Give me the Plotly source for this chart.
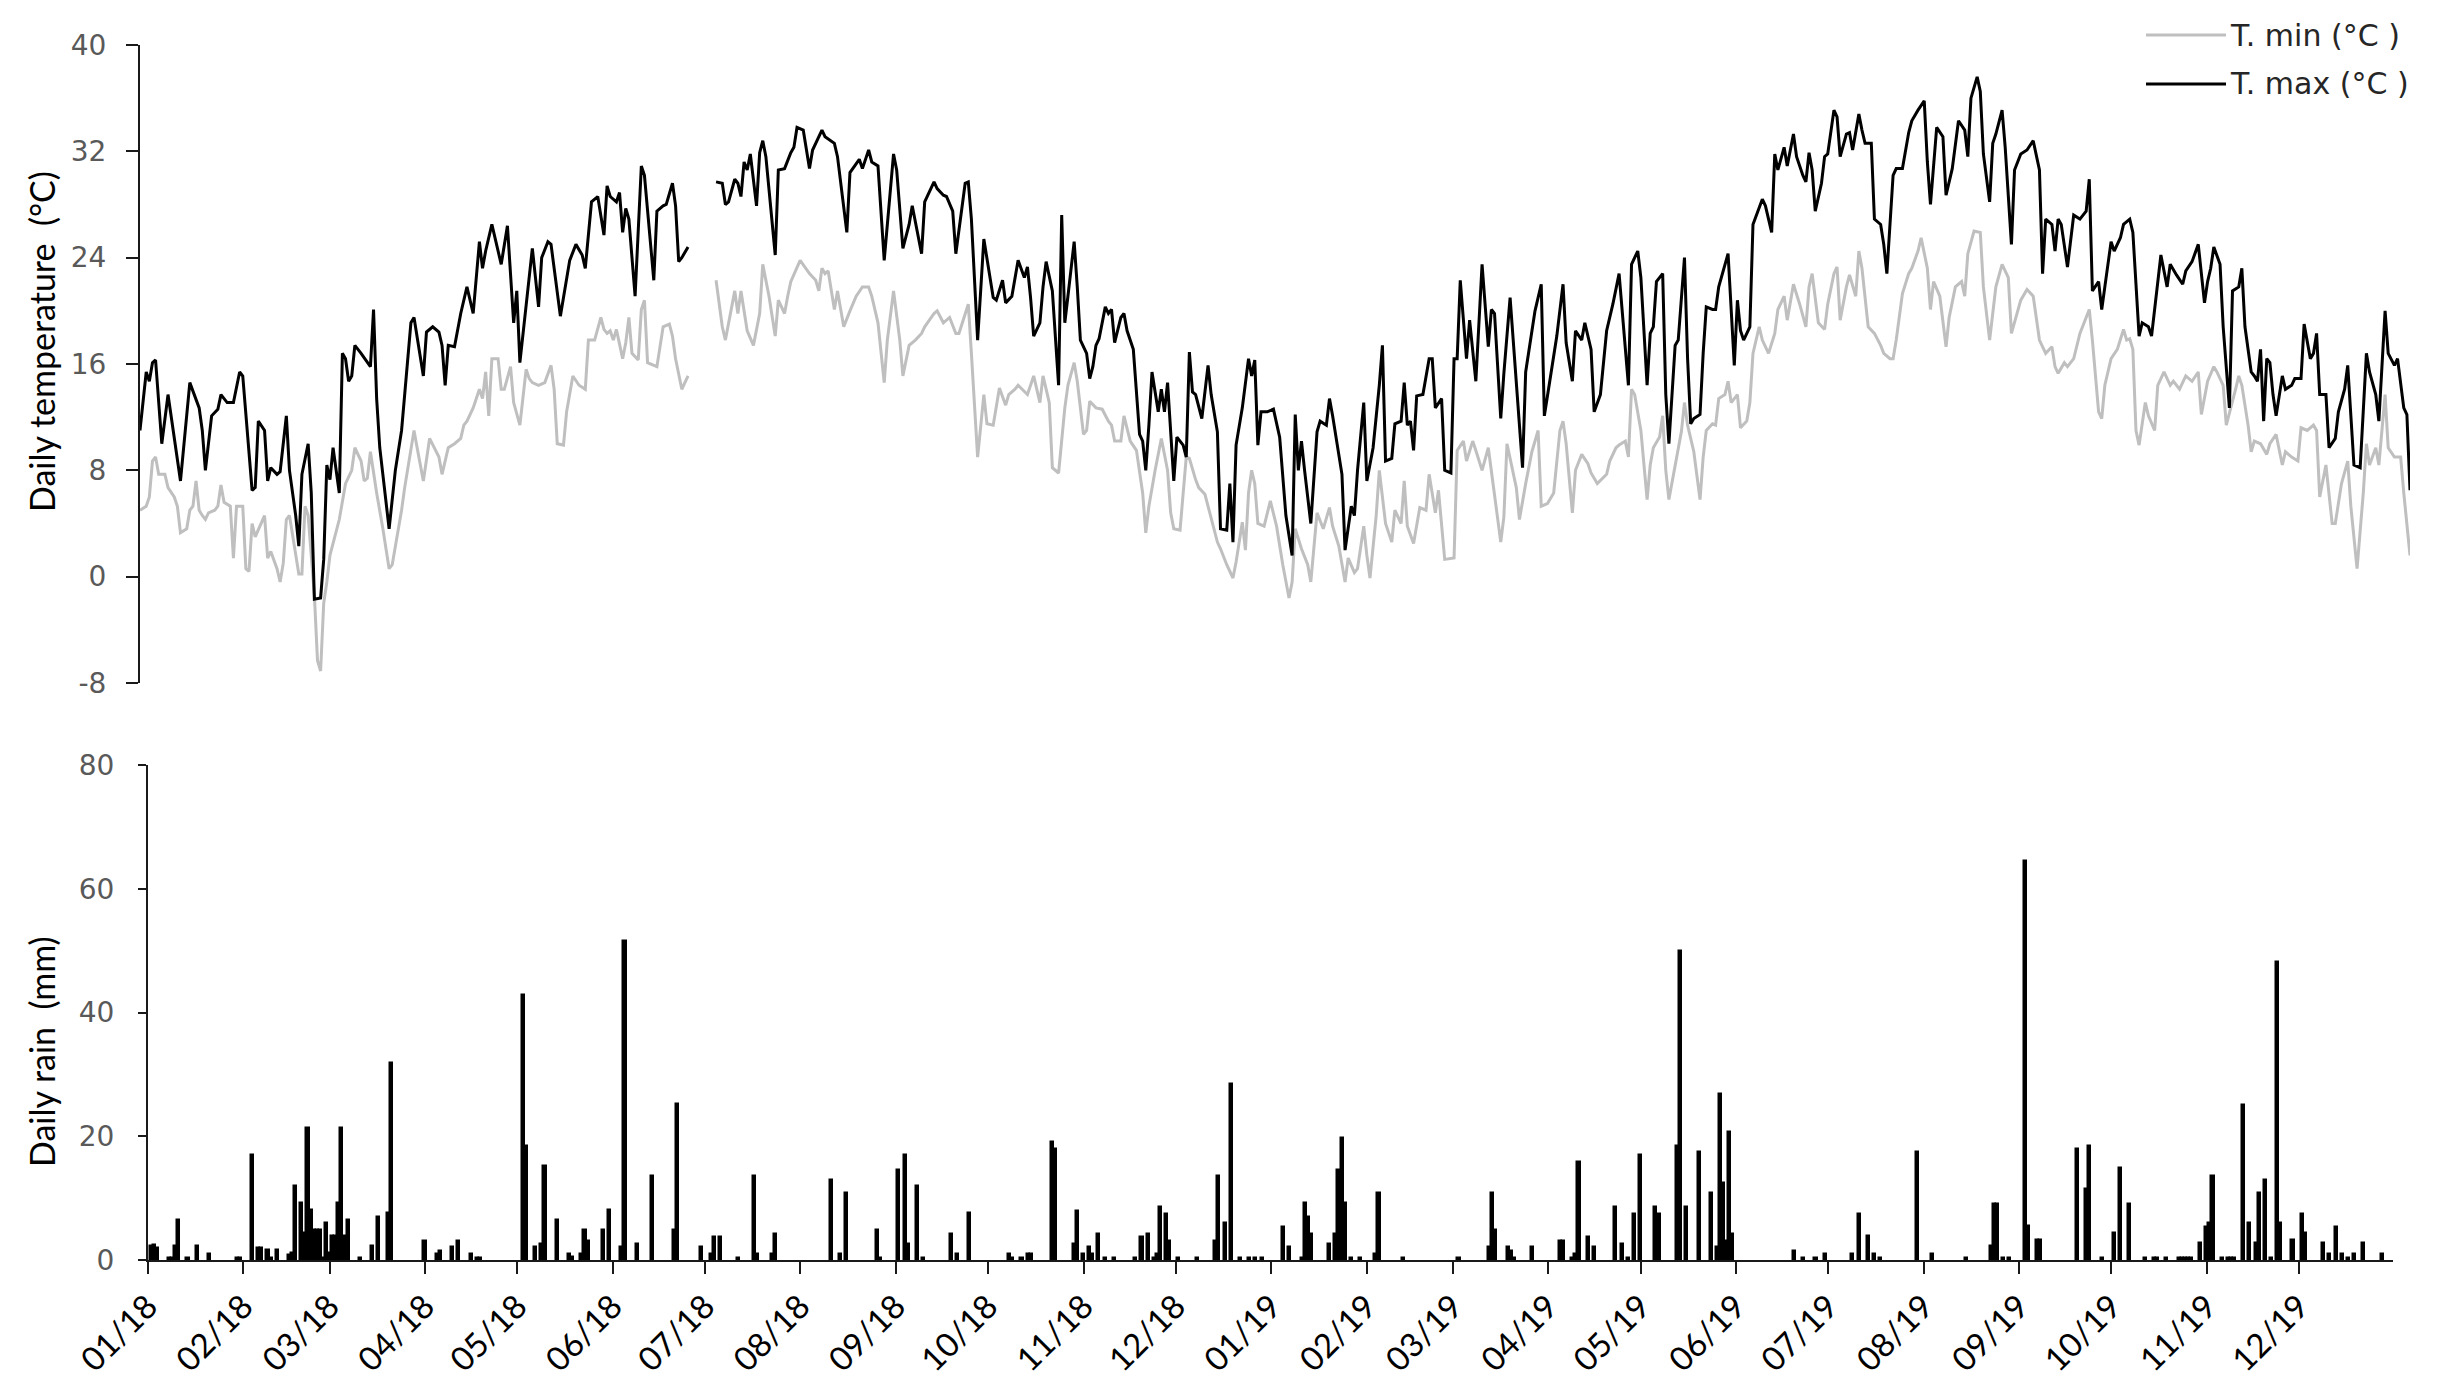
import pandas as pd
import plotly.graph_objects as go

START = pd.Timestamp("2018-01-01")

# (day offset from 2018-01-01, daily max temperature degC); None marks the missing stretch
TMAX = [
    (0, 11.0), (2, 15.4), (3, 14.7), (4, 16.1), (5, 16.3), (7, 10.0), (9, 13.7), (13, 7.2), (16, 14.6), (19, 12.7), (20, 11.0),
    (21, 8.0), (23, 12.1), (25, 12.6), (26, 13.7), (28, 13.1), (30, 13.1), (32, 15.4), (33, 15.1), (35, 9.7), (36, 6.5), (37, 6.7),
    (38, 11.7), (40, 11.0), (41, 7.2), (42, 8.2), (44, 7.7), (45, 7.9), (47, 12.1), (48, 8.0), (50, 4.6), (51, 2.3), (52, 7.7),
    (54, 10.0), (55, 6.3), (56, -1.7), (58, -1.6), (59, 1.3), (60, 8.4), (61, 7.3), (62, 9.7), (64, 6.3), (65, 16.8), (66, 16.4),
    (67, 14.7), (68, 15.1), (69, 17.4), (71, 16.8), (74, 15.8), (75, 20.1), (76, 13.4), (77, 9.7), (80, 3.6), (82, 8.0), (84, 11.0),
    (85, 13.7), (87, 19.1), (88, 19.5), (90, 16.4), (91, 15.1), (92, 18.4), (94, 18.8), (96, 18.4), (97, 17.4), (98, 14.4), (99, 17.4),
    (101, 17.3), (103, 19.8), (105, 21.8), (107, 19.8), (109, 25.2), (110, 23.2), (111, 24.5), (113, 26.5), (116, 23.5), (118, 26.4),
    (120, 19.1), (121, 21.5), (122, 16.1), (126, 24.7), (128, 20.3), (129, 24.0), (131, 25.2), (132, 25.0), (135, 19.6), (138, 23.8),
    (140, 25.0), (142, 24.2), (143, 23.2), (145, 28.2), (147, 28.6), (149, 25.7), (150, 29.4), (151, 28.6), (153, 28.2), (154, 28.9),
    (155, 25.9), (156, 27.7), (157, 26.9), (159, 21.1), (161, 30.9), (162, 30.2), (165, 22.3), (166, 27.5), (168, 27.9), (169, 28.0),
    (171, 29.6), (172, 27.9), (173, 23.7), (174, 24.0), (176, 24.8),
    (180, None),
    (185, 29.7), (187, 29.6), (188, 28.0), (189, 28.2), (191, 29.9), (192, 29.6), (193, 28.6), (194, 31.2), (195, 30.6), (196, 31.8),
    (198, 27.9), (199, 31.9), (200, 32.8), (201, 31.6), (204, 24.2), (205, 30.6), (207, 30.7), (209, 31.9), (210, 32.3), (211, 33.8),
    (213, 33.6), (215, 30.7), (216, 32.1), (219, 33.6), (220, 33.1), (223, 32.6), (224, 31.6), (227, 25.9), (228, 30.4), (231, 31.4),
    (232, 30.7), (234, 32.1), (235, 31.2), (237, 30.9), (239, 23.8), (242, 31.8), (243, 30.6), (245, 24.7), (247, 26.5), (248, 27.9),
    (251, 24.3), (252, 28.2), (255, 29.7), (256, 29.2), (258, 28.7), (259, 28.6), (261, 27.5), (262, 24.3), (265, 29.6), (266, 29.7),
    (267, 26.9), (269, 17.8), (271, 25.4), (274, 21.0), (275, 20.8), (277, 22.3), (278, 20.6), (280, 21.1), (282, 23.8), (283, 23.2),
    (284, 22.5), (285, 23.3), (286, 21.0), (287, 18.1), (289, 19.1), (290, 21.8), (291, 23.7), (293, 21.5), (295, 14.4), (296, 27.2),
    (297, 19.1), (298, 21.1), (300, 25.2), (301, 21.8), (302, 17.8), (304, 16.8), (305, 14.9), (306, 15.8), (307, 17.4), (308, 17.9),
    (310, 20.3), (311, 19.8), (312, 20.1), (313, 17.6), (315, 19.5), (316, 19.8), (317, 18.5), (319, 17.1), (321, 10.7), (322, 10.2),
    (323, 8.0), (324, 11.4), (325, 15.4), (327, 12.4), (328, 14.1), (329, 12.4), (330, 14.6), (332, 7.2), (333, 10.5), (335, 9.9),
    (336, 9.0), (337, 16.9), (338, 13.9), (339, 13.7), (341, 11.9), (343, 15.9), (344, 13.7), (346, 10.9), (347, 3.6), (349, 3.5),
    (350, 7.0), (351, 2.6), (352, 9.9), (354, 12.7), (356, 16.4), (357, 15.1), (358, 16.3), (359, 9.9), (360, 12.4), (362, 12.4),
    (364, 12.6), (366, 10.5), (368, 4.6), (370, 1.6), (371, 12.2), (372, 8.0), (373, 10.2), (374, 8.0), (376, 4.0), (378, 10.9),
    (379, 11.7), (381, 11.4), (382, 13.4), (383, 12.1), (386, 7.7), (387, 2.0), (389, 5.3), (390, 4.6), (391, 8.0), (393, 13.1),
    (394, 7.2), (396, 9.7), (398, 14.4), (399, 17.4), (400, 8.7), (402, 8.9), (403, 11.5), (405, 11.7), (406, 14.6), (407, 11.4),
    (408, 11.7), (409, 9.5), (410, 13.6), (412, 13.7), (414, 16.4), (415, 16.4), (416, 12.7), (418, 13.4), (419, 8.0), (421, 7.8),
    (422, 16.4), (423, 16.4), (424, 22.3), (426, 16.4), (427, 19.3), (429, 14.7), (431, 23.5), (433, 17.3), (434, 20.1), (435, 19.8),
    (437, 11.9), (438, 15.3), (440, 21.0), (441, 17.8), (444, 8.2), (445, 15.4), (448, 20.0), (450, 22.0), (451, 12.1), (452, 13.6),
    (455, 18.1), (457, 22.0), (458, 17.6), (460, 14.7), (461, 18.5), (463, 17.8), (464, 19.1), (466, 17.1), (467, 12.4), (469, 13.7),
    (471, 18.5), (473, 20.5), (475, 22.8), (478, 14.4), (479, 23.5), (481, 24.5), (482, 22.5), (484, 14.4), (485, 18.3), (486, 18.8),
    (487, 22.2), (489, 22.8), (490, 13.7), (491, 10.0), (493, 17.4), (494, 17.8), (496, 24.0), (497, 16.4), (498, 11.5), (499, 11.9),
    (501, 12.2), (502, 16.8), (503, 20.3), (505, 20.1), (506, 20.1), (507, 21.8), (509, 23.5), (510, 24.3), (512, 15.9), (513, 20.8),
    (514, 18.5), (515, 17.8), (517, 18.8), (518, 26.5), (521, 28.4), (522, 27.9), (524, 25.9), (525, 31.8), (526, 30.6), (528, 32.3),
    (529, 30.9), (531, 33.3), (532, 31.6), (534, 30.2), (535, 29.7), (536, 31.9), (537, 30.6), (538, 27.5), (540, 29.6), (541, 31.6),
    (542, 31.8), (544, 35.1), (545, 34.6), (546, 31.6), (548, 33.3), (549, 33.4), (550, 32.1), (552, 34.8), (553, 33.6), (554, 32.6),
    (556, 32.6), (557, 26.9), (559, 26.5), (560, 25.0), (561, 22.8), (563, 30.2), (564, 30.7), (566, 30.7), (568, 33.4), (569, 34.3),
    (571, 35.1), (573, 35.8), (574, 31.2), (575, 28.0), (577, 33.8), (579, 33.1), (580, 28.7), (582, 30.7), (584, 34.3), (586, 33.6),
    (587, 31.6), (588, 36.0), (590, 37.6), (591, 36.5), (592, 31.8), (594, 28.2), (595, 32.6), (596, 33.3), (598, 35.1), (599, 32.3),
    (601, 25.0), (602, 30.6), (604, 31.8), (606, 32.1), (608, 32.8), (610, 30.6), (611, 22.8), (612, 26.9), (614, 26.5), (615, 24.5),
    (616, 26.9), (617, 26.5), (619, 23.3), (620, 25.2), (621, 27.2), (623, 26.9), (625, 27.5), (626, 29.9), (627, 21.5), (629, 22.2),
    (630, 20.1), (631, 21.8), (633, 25.2), (634, 24.5), (636, 25.5), (637, 26.5), (639, 26.9), (640, 25.9), (642, 18.1), (643, 19.1),
    (645, 18.8), (646, 18.1), (647, 20.1), (649, 24.2), (651, 21.8), (652, 23.5), (654, 22.7), (656, 22.0), (657, 23.0), (659, 23.7),
    (661, 25.0), (662, 22.8), (663, 20.6), (664, 22.2), (665, 23.2), (666, 24.8), (668, 23.5), (669, 18.8), (671, 12.7), (672, 21.5),
    (674, 21.8), (675, 23.2), (676, 18.8), (678, 15.4), (679, 15.1), (680, 14.7), (681, 17.1), (682, 11.7), (683, 16.4), (684, 16.1),
    (685, 13.7), (686, 12.1), (688, 15.1), (689, 14.1), (691, 14.4), (692, 14.9), (694, 14.9), (695, 19.0), (697, 16.4), (698, 16.8),
    (699, 18.3), (700, 13.7), (702, 13.7), (703, 9.7), (705, 10.4), (706, 12.4), (708, 14.1), (709, 15.9), (711, 8.4), (713, 8.2),
    (714, 12.4), (715, 16.8), (716, 15.4), (718, 13.7), (719, 11.7), (720, 16.4), (721, 20.0), (722, 16.8), (724, 15.9), (725, 16.4),
    (727, 12.7), (728, 12.2), (729, 6.5),
]

# (day offset, daily min temperature degC)
TMIN = [
    (0, 5.0), (2, 5.3), (3, 6.0), (4, 8.7), (5, 9.0), (6, 7.7), (8, 7.7), (9, 6.7), (11, 6.0), (12, 5.3), (13, 3.3), (15, 3.6),
    (16, 5.0), (17, 5.3), (18, 7.2), (19, 5.0), (20, 4.6), (21, 4.3), (22, 4.8), (24, 5.0), (25, 5.3), (26, 6.9), (27, 5.6), (29, 5.3),
    (30, 1.4), (31, 5.3), (33, 5.3), (34, 0.6), (35, 0.4), (36, 4.0), (37, 3.0), (40, 4.6), (41, 1.4), (42, 1.9), (44, 0.6), (45, -0.4),
    (46, 1.0), (47, 4.3), (48, 4.6), (51, 0.2), (52, 0.2), (53, 5.3), (54, 4.6), (56, -1.4), (57, -6.3), (58, -7.1), (59, -2.0),
    (60, -0.4), (61, 1.6), (63, 3.3), (64, 4.3), (66, 7.0), (68, 8.0), (69, 9.7), (71, 8.7), (72, 7.2), (73, 7.4), (74, 9.4), (76, 6.3),
    (78, 3.6), (80, 0.6), (81, 0.9), (83, 3.6), (84, 5.0), (85, 6.7), (88, 11.0), (89, 9.7), (91, 7.2), (93, 10.4), (95, 9.4), (96, 9.0),
    (97, 7.7), (99, 9.7), (101, 10.0), (103, 10.4), (104, 11.4), (105, 11.7), (107, 12.7), (109, 14.1), (110, 13.4), (111, 15.4),
    (112, 12.1), (113, 16.4), (115, 16.4), (116, 14.1), (117, 14.1), (119, 15.8), (120, 13.1), (122, 11.4), (124, 15.6), (125, 14.9),
    (126, 14.6), (128, 14.4), (130, 14.6), (132, 15.9), (133, 14.1), (134, 10.0), (136, 9.9), (137, 12.4), (139, 15.1), (141, 14.4),
    (143, 14.1), (144, 17.8), (146, 17.8), (148, 19.5), (149, 18.6), (150, 18.3), (151, 18.5), (152, 17.8), (153, 18.6), (155, 16.4),
    (156, 17.6), (157, 19.5), (158, 16.8), (160, 16.3), (161, 20.1), (162, 20.8), (163, 16.1), (165, 15.9), (166, 15.8), (168, 18.8),
    (170, 19.0), (171, 18.1), (172, 16.4), (174, 14.1), (176, 15.1),
    (180, None),
    (185, 22.3), (187, 18.8), (188, 17.8), (191, 21.5), (192, 19.8), (193, 21.5), (195, 18.5), (197, 17.4), (199, 19.8), (200, 23.5),
    (202, 21.1), (204, 18.1), (205, 20.8), (207, 19.8), (208, 21.1), (209, 22.2), (212, 23.8), (215, 22.8), (217, 22.3), (218, 21.5),
    (219, 23.2), (220, 22.8), (221, 23.0), (223, 20.1), (224, 21.5), (226, 18.8), (228, 20.0), (230, 21.1), (232, 21.8), (234, 21.8),
    (235, 21.1), (237, 19.1), (239, 14.6), (240, 17.8), (242, 21.5), (244, 17.8), (245, 15.1), (247, 17.4), (249, 17.8), (251, 18.3),
    (252, 18.8), (255, 19.8), (256, 20.0), (258, 19.1), (260, 19.5), (262, 18.3), (263, 18.3), (266, 20.5), (267, 16.8), (269, 9.0),
    (271, 13.7), (272, 11.5), (274, 11.4), (276, 14.2), (278, 12.9), (279, 13.7), (281, 14.1), (282, 14.4), (285, 13.7), (287, 15.1),
    (289, 13.1), (290, 15.1), (292, 13.1), (293, 8.2), (295, 7.8), (297, 12.7), (298, 14.4), (300, 16.1), (301, 14.7), (303, 10.7),
    (304, 11.0), (305, 13.2), (307, 12.7), (309, 12.6), (311, 11.7), (312, 11.4), (313, 10.2), (315, 10.2), (316, 12.1), (318, 10.2),
    (320, 9.5), (322, 6.3), (323, 3.3), (324, 5.3), (326, 8.0), (328, 10.4), (330, 8.0), (331, 4.8), (332, 3.6), (334, 3.5), (336, 9.0),
    (337, 8.9), (339, 7.3), (340, 6.7), (342, 6.2), (344, 4.3), (346, 2.6), (347, 2.1), (349, 0.9), (351, -0.1), (352, 1.1), (354, 4.1),
    (355, 2.0), (356, 6.3), (357, 8.0), (358, 7.0), (359, 4.0), (361, 3.8), (363, 5.7), (365, 3.8), (367, 0.9), (369, -1.6), (370, -0.4),
    (371, 3.6), (373, 2.1), (375, 0.9), (376, -0.4), (378, 4.8), (380, 3.6), (382, 5.2), (383, 3.8), (385, 2.3), (387, -0.4), (388, 1.4),
    (390, 0.3), (391, 0.6), (393, 3.8), (394, 1.6), (395, -0.1), (397, 4.6), (398, 8.0), (400, 4.0), (402, 2.6), (403, 5.0), (405, 4.0),
    (406, 7.2), (407, 3.8), (409, 2.5), (411, 5.2), (413, 5.0), (414, 7.7), (416, 4.8), (417, 6.5), (419, 1.3), (422, 1.4), (423, 9.5),
    (425, 10.2), (426, 8.7), (428, 10.2), (429, 9.5), (431, 8.0), (433, 9.7), (435, 6.3), (437, 2.6), (438, 4.5), (439, 10.0), (442, 6.7),
    (443, 4.3), (445, 7.0), (447, 9.4), (449, 11.0), (450, 5.3), (452, 5.5), (454, 6.3), (456, 11.0), (457, 11.7), (458, 10.0),
    (460, 4.8), (461, 8.0), (463, 9.2), (465, 8.5), (466, 7.8), (468, 7.0), (471, 7.7), (472, 8.7), (474, 9.7), (475, 9.9), (477, 10.2),
    (478, 9.0), (479, 14.1), (480, 13.7), (482, 11.0), (484, 5.8), (485, 8.4), (486, 9.7), (488, 10.5), (489, 12.1), (490, 8.0),
    (491, 5.8), (493, 8.4), (495, 10.9), (496, 13.1), (497, 11.4), (499, 9.4), (501, 5.8), (502, 9.0), (503, 11.0), (505, 11.5),
    (506, 11.4), (507, 13.4), (509, 13.7), (510, 14.7), (511, 13.1), (513, 13.7), (514, 11.2), (516, 11.7), (517, 13.1), (518, 16.8),
    (520, 18.8), (521, 17.8), (523, 16.8), (525, 18.3), (526, 20.1), (528, 21.1), (529, 19.3), (531, 22.0), (533, 20.5), (535, 18.8),
    (536, 21.8), (537, 22.8), (539, 19.1), (541, 18.6), (542, 20.5), (544, 22.8), (545, 23.3), (546, 19.3), (548, 21.8), (549, 22.7),
    (551, 21.1), (552, 24.5), (553, 23.2), (555, 18.8), (557, 18.3), (559, 17.4), (560, 16.8), (562, 16.4), (563, 16.4), (564, 17.8),
    (566, 21.3), (568, 22.8), (569, 23.2), (571, 24.5), (572, 25.5), (574, 23.2), (575, 20.1), (576, 22.2), (578, 21.1), (580, 17.3),
    (581, 19.5), (583, 21.8), (585, 22.2), (586, 21.1), (587, 24.3), (589, 26.0), (591, 25.9), (592, 21.8), (594, 17.8), (595, 19.8),
    (596, 21.8), (598, 23.5), (600, 22.5), (601, 18.3), (603, 20.1), (604, 20.8), (606, 21.6), (608, 21.1), (610, 17.8), (612, 16.8),
    (614, 17.3), (615, 15.8), (616, 15.3), (618, 16.1), (619, 15.8), (621, 16.4), (623, 18.3), (625, 19.5), (626, 20.1), (627, 17.8),
    (629, 12.4), (630, 11.9), (631, 14.4), (633, 16.4), (635, 17.1), (637, 18.6), (638, 17.8), (639, 17.9), (640, 17.1), (641, 11.0),
    (642, 9.9), (644, 13.1), (645, 12.1), (647, 11.0), (648, 14.4), (650, 15.4), (652, 14.4), (653, 14.7), (655, 14.1), (657, 15.1),
    (659, 14.7), (661, 15.4), (662, 12.2), (664, 14.7), (666, 15.8), (667, 15.4), (669, 14.4), (670, 11.4), (672, 13.1), (673, 14.1),
    (674, 15.1), (675, 14.4), (677, 11.4), (678, 9.4), (679, 10.2), (681, 10.0), (683, 9.2), (684, 10.0), (686, 10.7), (688, 8.4),
    (689, 9.4), (691, 9.0), (693, 8.7), (694, 11.2), (696, 11.0), (698, 11.4), (699, 11.0), (700, 6.0), (702, 8.4), (704, 4.0),
    (705, 4.0), (707, 7.0), (709, 8.7), (710, 5.3), (712, 0.6), (714, 6.3), (715, 10.0), (716, 8.4), (718, 9.7), (719, 8.4),
    (721, 13.7), (722, 9.7), (724, 9.0), (726, 9.0), (727, 6.3), (729, 1.6),
]

# (day offset, daily rain mm); days not listed had no rain
RAIN = [
    (1, 2.2), (2, 2.4), (3, 1.9), (7, 0.3), (8, 0.3), (9, 2.2), (10, 6.5), (13, 0.3), (16, 2.2), (20, 1.0), (29, 0.4), (30, 0.4),
    (34, 17.0), (36, 2.0), (37, 2.0), (39, 1.6), (40, 0.3), (42, 1.6), (46, 0.8), (47, 1.1), (48, 12.0), (50, 9.2), (51, 4.3),
    (52, 21.4), (53, 8.1), (54, 4.9), (55, 4.9), (56, 4.9), (57, 0.3), (58, 5.9), (59, 1.1), (60, 3.8), (61, 3.8), (62, 9.2),
    (63, 21.4), (64, 3.8), (65, 6.5), (69, 0.3), (73, 2.2), (75, 7.0), (78, 7.6), (79, 31.8), (90, 3.1), (94, 0.9), (95, 1.5),
    (99, 2.1), (101, 3.1), (105, 0.9), (107, 0.4), (108, 0.3), (122, 42.8), (123, 18.5), (126, 2.1), (128, 2.6), (129, 15.2),
    (133, 6.5), (137, 0.9), (138, 0.5), (141, 0.9), (142, 4.9), (143, 3.1), (148, 4.9), (150, 8.1), (154, 2.1), (155, 51.6),
    (159, 2.6), (164, 13.6), (171, 4.9), (172, 25.2), (180, 2.1), (183, 0.9), (184, 3.7), (186, 3.7), (192, 0.3), (197, 13.6),
    (198, 0.9), (203, 0.9), (204, 4.2), (222, 13.0), (225, 0.9), (227, 10.8), (237, 4.9), (238, 0.3), (244, 14.6), (246, 16.9),
    (247, 2.6), (250, 11.9), (252, 0.3), (261, 4.2), (263, 0.9), (267, 7.6), (280, 0.9), (281, 0.4), (284, 0.4), (286, 0.9),
    (287, 0.9), (294, 19.1), (295, 18.0), (301, 2.6), (302, 8.0), (304, 0.9), (306, 2.1), (307, 0.9), (309, 4.2), (311, 0.3),
    (314, 0.3), (321, 0.3), (323, 3.7), (325, 4.2), (327, 0.4), (328, 0.9), (329, 8.6), (331, 7.5), (332, 3.1), (335, 0.3),
    (341, 0.3), (347, 3.1), (348, 13.6), (350, 5.9), (352, 28.5), (355, 0.3), (358, 0.3), (360, 0.4), (362, 0.4), (369, 5.4),
    (371, 2.1), (375, 0.4), (376, 9.2), (377, 7.0), (378, 4.2), (384, 2.6), (386, 4.2), (387, 14.6), (388, 19.7), (389, 9.2),
    (391, 0.4), (394, 0.4), (399, 0.9), (400, 10.8), (408, 0.4), (426, 0.3), (436, 2.1), (437, 10.8), (438, 4.9), (442, 2.1),
    (443, 1.5), (444, 0.4), (450, 2.1), (459, 3.1), (460, 3.1), (463, 0.4), (464, 0.9), (465, 15.8), (468, 3.7), (470, 2.1),
    (477, 8.6), (479, 2.6), (481, 0.4), (483, 7.5), (485, 16.9), (490, 8.6), (491, 7.5), (497, 18.5), (498, 49.9), (500, 8.6),
    (504, 17.5), (508, 10.8), (510, 2.1), (511, 26.9), (512, 12.4), (513, 3.1), (514, 20.7), (515, 4.2), (535, 1.5), (538, 0.4),
    (542, 0.4), (545, 1.0), (554, 1.0), (556, 7.5), (559, 3.8), (561, 0.9), (563, 0.4), (575, 17.5), (580, 0.9), (591, 0.4),
    (599, 2.2), (600, 9.1), (601, 9.1), (603, 0.4), (605, 0.4), (610, 64.5), (611, 5.5), (614, 3.2), (615, 3.2), (627, 18.0),
    (630, 11.4), (631, 18.5), (635, 0.4), (639, 4.3), (641, 14.8), (644, 9.1), (649, 0.4), (652, 0.4), (653, 0.4), (656, 0.4),
    (660, 0.4), (661, 0.4), (662, 0.4), (663, 0.4), (664, 0.4), (667, 2.7), (669, 5.4), (670, 5.9), (671, 13.6), (674, 0.4),
    (676, 0.4), (677, 0.4), (678, 0.4), (681, 25.1), (683, 5.9), (685, 2.7), (686, 10.8), (688, 13.0), (690, 0.4), (692, 48.1),
    (693, 5.9), (697, 3.2), (700, 7.5), (701, 4.3), (707, 2.7), (709, 0.9), (711, 5.4), (713, 0.9), (715, 0.4), (717, 0.9),
    (720, 2.7), (726, 0.9),
]

TEMP_TICKS = [-8, 0, 8, 16, 24, 32, 40]
TEMP_TICK_TEXT = ["-8", "0", "8", "16", "24", "32", "40"]
RAIN_TICKS = [0, 20, 40, 60, 80]
RAIN_TICK_TEXT = ["0", "20", "40", "60", "80"]
SERIES_NAMES = ["T. min (°C )", "T. max (°C )"]
Y_TITLES = ["Daily temperature  (°C)", "Daily rain  (mm)"]
LAST_DAY = 729


def to_dates(days):
    return [START + pd.Timedelta(days=int(d)) for d in days]


def unzip(pairs):
    return [p[0] for p in pairs], [p[1] for p in pairs]


tmin_d, tmin_v = unzip(TMIN)
tmax_d, tmax_v = unzip(TMAX)
rain_d, rain_v = unzip(RAIN)

W, H = 2439, 1390


def px_x(x):
    return x / W


def px_y(y):
    return 1 - y / H


fig = go.Figure()
fig.add_trace(go.Scatter(x=to_dates(tmin_d), y=tmin_v, mode="lines", name=SERIES_NAMES[0],
                         line=dict(color="#BFBFBF", width=3), connectgaps=False,
                         xaxis="x", yaxis="y"))
fig.add_trace(go.Scatter(x=to_dates(tmax_d), y=tmax_v, mode="lines", name=SERIES_NAMES[1],
                         line=dict(color="#000000", width=3), connectgaps=False,
                         xaxis="x", yaxis="y"))
fig.add_trace(go.Bar(x=to_dates(rain_d), y=rain_v, width=86400000 * 1.0,
                     marker=dict(color="#000000", line=dict(color="#000000", width=1.5)),
                     xaxis="x2", yaxis="y2"))

axis_col = "#1a1a1a"
tick_font = dict(family="DejaVu Sans", size=28, color="#595959")

fig.update_layout(
    width=W, height=H, autosize=False,
    margin=dict(l=0, r=0, t=0, b=0, autoexpand=False),
    paper_bgcolor="white", plot_bgcolor="white",
    showlegend=False, bargap=0,
    xaxis=dict(domain=[px_x(132), px_x(2402)], anchor="y", visible=False, automargin=False,
               range=[START, START + pd.Timedelta(days=LAST_DAY)], showgrid=False, zeroline=False),
    yaxis=dict(domain=[px_y(675), px_y(37)], anchor="x", range=[-8, 40], automargin=False,
               tickvals=TEMP_TICKS, ticktext=TEMP_TICK_TEXT, ticks="outside", ticklen=12, tickwidth=2,
               tickcolor=axis_col, showline=True, linecolor=axis_col, linewidth=2,
               showgrid=False, zeroline=False, tickfont=tick_font, ticklabelstandoff=14),
    xaxis2=dict(domain=[px_x(140), px_x(2385)], anchor="y2", automargin=False,
                range=[START, START + pd.Timedelta(days=LAST_DAY + 0.5)],
                showline=True, linecolor=axis_col, linewidth=2, ticks="outside", ticklen=12, tickwidth=2,
                tickcolor=axis_col, dtick="M1", tick0=START, tickformat="%m/%y", tickangle=-45,
                tickfont=dict(family="Lato", size=33, color="#000000"), showgrid=False, zeroline=False),
    yaxis2=dict(domain=[px_y(1252), px_y(757)], anchor="x2", range=[0, 80], automargin=False,
                tickvals=RAIN_TICKS, ticktext=RAIN_TICK_TEXT, ticks="outside", ticklen=8, tickwidth=2,
                tickcolor=axis_col, showline=True, linecolor=axis_col, linewidth=2,
                showgrid=False, zeroline=False, tickfont=tick_font, ticklabelstandoff=18),
)

# y-axis titles
fig.add_annotation(text=Y_TITLES[0], xref="paper", yref="paper", x=px_x(33), y=px_y(334),
                   textangle=-90, showarrow=False, xanchor="center", yanchor="middle",
                   font=dict(family="Lato", size=34, color="#000000"))
fig.add_annotation(text=Y_TITLES[1], xref="paper", yref="paper", x=px_x(33), y=px_y(1044),
                   textangle=-90, showarrow=False, xanchor="center", yanchor="middle",
                   font=dict(family="Lato", size=34, color="#000000"))

# legend drawn as line samples + text, top right
legend_items = [(SERIES_NAMES[0], "#BFBFBF", 27), (SERIES_NAMES[1], "#000000", 76)]
for label, col, ypx in legend_items:
    fig.add_shape(type="line", xref="paper", yref="paper", x0=px_x(2138), x1=px_x(2218),
                  y0=px_y(ypx), y1=px_y(ypx), line=dict(color=col, width=3))
    fig.add_annotation(text=label, xref="paper", yref="paper", x=px_x(2220), y=px_y(ypx),
                       xanchor="left", yanchor="middle", showarrow=False,
                       font=dict(family="DejaVu Sans", size=30, color="#262626"))

fig.write_html("out.html")
